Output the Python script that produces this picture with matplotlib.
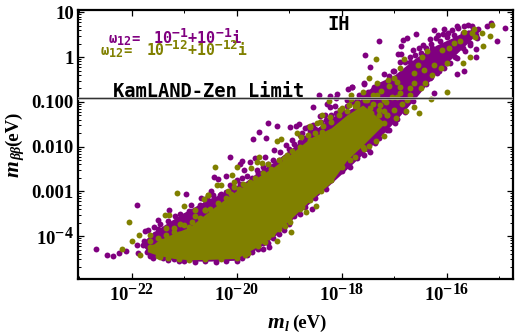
import matplotlib
matplotlib.use("Agg")
import matplotlib.pyplot as plt
import matplotlib._mathtext as mt
import numpy as np
from matplotlib.ticker import FixedLocator, NullFormatter

# everything below is log10 of the value
purple_band_x = [-21.8, -21.6, -21.3, -21, -20.5, -20, -19.6, -19.3, -19, -18.6, -18.2, -17.8, -17.4, -17, -16.6, -16.2, -15.9, -15.6, -15.4]
purple_band_lo = [-4.2, -4.48, -4.52, -4.56, -4.56, -4.54, -4.28, -4.03, -3.69, -3.25, -2.82, -2.39, -1.94, -1.45, -0.92, -0.35, -0.02, 0.32, 0.55]
purple_band_hi = [-4.15, -3.92, -3.69, -3.47, -3.15, -2.93, -2.57, -2.35, -2.08, -1.70, -1.34, -1.14, -0.62, -0.40, -0.02, 0.27, 0.43, 0.61, 0.6]

olive_band_x = [-21.7, -21.5, -21.2, -20.9, -20.5, -20, -19.6, -19.3, -19, -18.6, -18.2, -17.9, -17.6, -17.2]
olive_band_lo = [-4.35, -4.43, -4.50, -4.53, -4.52, -4.50, -4.23, -3.98, -3.65, -3.20, -2.80, -2.30, -1.97, -1.5]
olive_band_hi = [-4.3, -4.10, -3.94, -3.80, -3.42, -2.98, -2.68, -2.46, -2.19, -1.81, -1.58, -1.29, -1.07, -1.45]

purple_x = [-22.68, -22.47, -22.35, -22.24, -22.10, -21.89, -20.96, -21.29, -21.49, -21.46, -21.57, -21.68, -21.74, -21.76, -21.89, -21.78, -21.87, -21.65, -21.55, -21.46, -21.30, -21.17, -21.08, -20.87, -20.68, -20.69,
            -19.40, -19.23, -19.58, -19.69, -19.44, -18.99, -18.87, -18.81, -20.13, -19.90, -19.94, -20.36, -20.43, -20.20, -19.86, -20.49, -19.75, -19.65, -19.29, -19.18, -19.06, -18.95, -18.80, -18.64, -19.46, -20.0, -19.94, -19.62, -20.13, -20.32, -20.57,
            -18.57, -19.10, -19.23, -19.39, -19.40, -19.50, -18.80,
            -18.54, -18.43, -18.22, -18.09, -18.10, -18.28, -18.22, -18.12, -17.89, -17.80, -17.57, -17.46, -17.57, -18.41, -18.31, -17.86, -17.68, -17.90, -18.03, -16.98, -17.13, -17.36, -18.69, -18.76, -18.54, -17.46, -17.27, -17.39,
            -14.89, -15.04, -15.16, -15.24, -15.44, -15.44, -15.67, -15.81, -16.24, -16.06, -16.08, -16.17, -16.32, -16.58, -16.75, -16.84, -16.87, -16.93, -16.87, -16.64, -16.53, -16.46, -17.03, -16.89, -16.70, -16.60, -16.29, -16.13, -15.97, -15.87, -15.78, -15.68, -15.52, -15.43, -15.56, -15.65, -15.81, -15.94, -16.06, -16.19, -16.32, -16.25, -16.45, -16.0, -15.75, -15.62, -16.70,
            -17.30, -17.55, -17.46, -17.58, -17.81]
purple_y = [-4.30, -4.43, -4.45, -4.37, -4.34, -3.31, -3.06, -3.42, -3.63, -3.74, -3.80, -3.86, -3.89, -4.12, -4.21, -4.21, -4.38, -4.45, -3.95, -3.98, -3.67, -3.56, -3.50, -3.31, -3.15, -3.35,
            -1.47, -1.53, -1.67, -1.83, -1.81, -1.56, -1.53, -1.50, -2.24, -2.33, -2.39, -2.73, -2.68, -2.66, -2.53, -3.0, -2.34, -2.25, -2.08, -2.12, -1.97, -1.85, -1.74, -1.56, -2.23, -2.75, -2.83, -2.53, -2.86, -3.09, -3.16,
            -3.40, -3.87, -3.92, -4.24, -4.16, -4.28, -3.50,
            -1.11, -0.85, -0.87, -0.82, -0.91, -1.05, -1.11, -1.09, -0.71, -0.67, -0.60, -2.12, -2.19, -1.32, -1.29, -2.34, -0.85, -0.96, -1.18, -1.48, -1.63, -1.93, -1.59, -1.70, -1.52, -0.77, -0.62, -0.66,
            0.66, 0.37, 0.77, 0.69, 0.18, 0.01, -0.30, -0.37, 0.60, 0.62, 0.51, 0.50, 0.40, 0.51, 0.42, 0.39, 0.26, 0.06, 0.06, 0.16, 0.20, 0.28, -0.31, -0.10, -0.10, 0.05, 0.20, 0.35, 0.54, 0.50, 0.65, 0.69, 0.69, 0.43, 0.28, 0.13, -0.02, -0.14, -0.25, -0.36, -0.47, -0.81, -0.02, 0.28, 0.43, 0.50, -0.29,
            0.37, 0.05, -0.21, -0.58, -0.66]

# the crowded edges of the purple cloud
purple_edge_x = [-21.7, -21.6, -21.5, -21.4, -21.3, -21.2, -21.1, -21.0, -20.8, -20.6, -20.4, -20.2, -20.0, -19.9, -19.8, -19.7,
                 -21.6, -21.5, -21.4, -21.3, -21.2, -21.1, -21.0, -20.9, -20.8, -20.7, -20.6, -20.5, -20.45, -20.3, -20.2, -20.1, -20.0, -19.9, -19.8, -19.7, -19.6, -19.5, -19.4, -19.3, -19.2, -19.1, -19.0, -18.9, -18.8, -18.7, -18.6, -18.5, -18.4, -18.3, -18.2, -18.1, -18.0, -17.9, -17.8, -17.7, -17.6, -17.5,
                 -19.6, -19.5, -19.3, -19.2, -19.0, -18.9, -18.7, -18.5, -18.3, -18.2, -18.0, -17.85, -17.7, -17.5, -17.3, -17.1, -16.95, -16.8, -16.65, -16.4, -16.3, -16.15, -16.0, -15.85, -15.7, -15.55,
                 -17.2, -17.1, -17.0, -16.8, -16.7, -16.5, -16.4, -16.3, -16.2, -16.0, -15.9, -15.8, -15.6, -15.5, -15.45, -15.4, -15.7]
purple_edge_y = [-4.35, -4.48, -4.25, -4.5, -4.53, -4.52, -4.55, -4.56, -4.57, -4.56, -4.57, -4.55, -4.55, -4.5, -4.42, -4.36,
                 -4.0, -3.85, -3.9, -3.8, -3.75, -3.7, -3.55, -3.45, -3.5, -3.3, -3.2, -3.3, -3.08, -3.05, -3.02, -2.98, -2.92, -2.7, -2.65, -2.7, -2.6, -2.45, -2.4, -2.3, -2.3, -2.25, -2.05, -1.95, -1.9, -1.8, -1.65, -1.6, -1.45, -1.4, -1.3, -1.25, -1.2, -1.1, -1.0, -0.95, -0.85, -0.78,
                 -4.3, -4.15, -4.05, -3.95, -3.72, -3.55, -3.35, -3.15, -2.95, -2.75, -2.55, -2.45, -2.25, -2.05, -1.8, -1.62, -1.38, -1.22, -0.98, -0.6, -0.45, -0.3, -0.12, 0.0, 0.2, 0.32,
                 -0.38, -0.42, -0.3, -0.1, 0.0, 0.1, 0.2, 0.3, 0.42, 0.45, 0.6, 0.7, 0.72, 0.6, 0.5, 0.62, 0.55]

olive_x = [-15.14, -15.17, -15.31, -15.48, -15.55, -15.69, -16.0, -16.31, -16.52, -17.34, -17.48, -17.82, -17.82, -18.24, -15.68, -15.52, -15.33, -15.46, -15.74, -15.87, -15.96, -16.09, -16.0, -16.12, -16.25, -16.38, -16.47, -16.54, -16.44, -16.63, -16.82, -16.89, -17.01, -17.11, -17.33, -17.60, -16.89, -16.7, -16.50, -16.41, -16.28, -16.63, -16.95, -16.76, -16.63, -17.2, -17.33, -17.52, -17.71, -17.87, -18.03, -17.52, -17.30, -17.01, -17.14, -18.38, -18.22, -18.41, -18.60,
           -21.14, -22.05, -21.86, -21.99, -22.18, -21.84, -21.36, -21.28, -21.01, -20.63, -20.54, -21.65, -21.65, -21.65, -21.44, -21.34, -21.08, -21.2, -20.85, -20.79, -20.60, -21.46,
           -20.41, -20.0, -20.09, -19.16, -19.23, -19.58, -19.61, -19.52, -19.73, -20.37, -20.30, -20.06, -20.06, -20.16, -20.55, -19.87, -19.75, -19.40, -19.04, -18.86, -18.78, -18.60, -18.48, -18.38, -18.60, -18.51,
           -19.23, -18.97, -18.68, -18.49, -19.08, -18.98, -19.32, -18.76, -19.46, -19.78,
           -16.77, -16.96, -17.20, -17.34, -17.48, -17.58, -17.74, -18.0, -17.87, -17.71, -17.68, -17.46, -17.27, -17.14, -17.20, -17.36, -17.52, -17.84]
olive_y = [0.71, 0.48, 0.25, 0.63, 0.01, -0.12, -0.79, -0.93, -1.24, -0.04, -0.46, -0.84, -0.93, -0.99, 0.56, 0.55, 0.54, 0.44, 0.37, 0.31, 0.20, 0.17, -0.12, -0.25, -0.17, 0.13, 0.01, -0.17, -0.28, -0.36, -0.04, -0.25, -0.47, -0.51, -0.57, -0.78, -0.66, -0.70, -0.70, -0.58, -0.40, -0.58, -0.88, -0.96, -1.11, -0.96, -0.85, -0.96, -1.07, -1.07, -1.18, -1.26, -1.18, -1.18, -1.29, -1.29, -1.33, -1.44, -1.55,
           -3.03, -3.69, -3.98, -4.12, -4.28, -4.43, -3.53, -3.53, -3.33, -3.18, -3.09, -3.98, -4.10, -4.25, -4.12, -3.83, -3.72, -3.83, -3.69, -3.42, -3.42, -4.47,
           -2.46, -2.46, -2.64, -1.83, -1.88, -2.24, -2.35, -2.37, -2.48, -2.86, -2.86, -2.79, -2.90, -3.0, -3.09, -2.83, -2.79, -2.38, -2.19, -1.70, -1.78, -1.56, -1.48, -1.67, -1.85, -1.82,
           -4.10, -3.92, -3.47, -3.33, -3.78, -3.69, -3.96, -3.35, -4.13, -4.37,
           -1.20, -1.37, -1.76, -1.88, -1.98, -2.06, -2.23, -1.14, -1.07, -1.03, -1.18, -1.14, -1.07, -1.29, -1.48, -1.52, -1.37, -1.37]

# the crowded edges of the olive cloud
olive_edge_x = [-21.5, -21.3, -21.1, -20.9, -20.6, -20.3, -20.0, -19.85, -19.6, -19.4, -19.2, -19.0, -18.8, -18.6, -18.4, -18.2, -18.0, -17.85, -17.6,
                -21.6, -21.5, -21.35, -21.2, -21.1, -21.0, -20.9, -20.8, -20.7, -20.6, -20.5, -20.35, -20.2, -20.1, -19.95, -19.8, -19.65, -19.5, -19.35, -19.2, -19.1, -18.95, -18.8, -18.65, -18.5, -18.35, -18.2, -18.05, -17.9, -17.75, -17.55, -17.4, -17.25, -17.1, -16.95,
                -17.5, -17.4, -17.3, -17.45, -17.55, -17.2, -17.05, -17.15, -17.4, -16.9, -16.85, -16.7]
olive_edge_y = [-4.45, -4.5, -4.52, -4.53, -4.52, -4.52, -4.5, -4.42, -4.22, -4.03, -3.85, -3.62, -3.4, -3.2, -3.0, -2.75, -2.45, -2.3, -2.0,
                -4.25, -4.05, -3.98, -3.9, -3.95, -3.75, -3.8, -3.55, -3.6, -3.42, -3.4, -3.25, -3.15, -3.05, -2.95, -2.85, -2.7, -2.6, -2.5, -2.3, -2.25, -2.1, -2.0, -1.75, -1.7, -1.55, -1.45, -1.3, -1.2, -1.1, -0.95, -0.85, -0.75, -0.65, -0.55,
                -1.7, -1.5, -1.3, -1.25, -1.5, -1.2, -0.9, -1.0, -1.05, -0.8, -1.05, -0.85]

limit = 0.12
x_major = [-22, -20, -18, -16]
x_minor = [-23, -21, -19, -17, -15]
y_major = [1, 0, -1, -2, -3, -4]
y_labels = ["10", "1", "0.100", "0.010", "0.001", r"$\mathrm{10^{-4}}$"]

plt.rcParams["font.family"] = "Liberation Serif"
plt.rcParams["font.weight"] = "bold"
plt.rcParams["mathtext.fontset"] = "custom"
plt.rcParams["mathtext.rm"] = "Liberation Serif:bold"
plt.rcParams["mathtext.it"] = "Liberation Serif:italic:bold"
plt.rcParams["mathtext.bf"] = "Liberation Serif:bold"
plt.rcParams["mathtext.tt"] = "DejaVu Sans Mono:bold"
mt.SHRINK_FACTOR = 0.85  # the exponents are nearly full size in the original

purple = "#800080"
olive = "#808000"

fig = plt.figure(figsize=(5.18, 3.34), dpi=100)
ax = fig.add_axes([78 / 518, 1 - 279 / 334, 435 / 518, 269 / 334])
ax.set_xscale("log")
ax.set_yscale("log")


def band(xs, lo, hi, color, z):
    ax.fill_between(10.0 ** np.array(xs), 10.0 ** np.array(lo), 10.0 ** np.array(hi), color=color, lw=0, zorder=z)


def dots(xs, ys, color, z):
    ax.scatter(10.0 ** np.array(xs), 10.0 ** np.array(ys), s=18, color=color, lw=0, zorder=z)


def px_text(x, y, s, **kw):
    return fig.text(x / 518, 1 - y / 334, s, **kw)


band(purple_band_x, purple_band_lo, purple_band_hi, purple, 1)
dots(purple_x, purple_y, purple, 2)
dots(purple_edge_x, purple_edge_y, purple, 2)
band(olive_band_x, olive_band_lo, olive_band_hi, olive, 3)
dots(olive_x, olive_y, olive, 4)
dots(olive_edge_x, olive_edge_y, olive, 4)
ax.axhline(limit, color="#c8c8c8", lw=1.8, zorder=5)
ax.axhline(limit, color="#333333", lw=0.9, zorder=6)

ax.set_xlim(10.0 ** -23.02, 10.0 ** -14.74)
ax.set_ylim(10.0 ** -4.96, 10.0 ** 1.054)

ax.xaxis.set_major_locator(FixedLocator([10.0 ** v for v in x_major]))
ax.xaxis.set_minor_locator(FixedLocator([10.0 ** v for v in x_minor]))
ax.xaxis.set_minor_formatter(NullFormatter())
ax.set_xticklabels([rf"$\mathrm{{10^{{{v}}}}}$" for v in x_major])
y_minor = [m * 10.0 ** e for e in range(-5, 2) for m in range(2, 10)]
ax.yaxis.set_major_locator(FixedLocator([10.0 ** v for v in y_major]))
ax.yaxis.set_minor_locator(FixedLocator([v for v in y_minor if v < 10.0 ** 1.054]))
ax.yaxis.set_minor_formatter(NullFormatter())
ax.set_yticklabels(y_labels)
ax.tick_params(which="major", direction="in", top=True, right=True, length=4.5, width=0.9, labelsize=13.5, pad=3)
ax.tick_params(which="minor", direction="in", top=True, right=True, length=2.5, width=0.7)
for s in ax.spines.values():
    s.set_linewidth(1.6)
ax.set_axisbelow(False)

# axis labels are put together by hand so the subscripts stay small
px_text(268, 328, "m", style="italic", fontsize=15.5, va="baseline")
px_text(285, 331, "l", style="italic", fontsize=10, va="baseline")
px_text(292, 328, "(eV)", fontsize=13.5, va="baseline")
vert = dict(rotation=90, rotation_mode="anchor", ha="left", va="baseline")
px_text(18.5, 177, "m", style="italic", fontsize=15.5, **vert)
px_text(21.5, 160, "ββ", style="italic", fontsize=10, **vert)
px_text(18.5, 146, "(eV)", fontsize=13.5, **vert)

mono = "DejaVu Sans Mono"
px_text(339, 24, "IH", family=mono, weight="bold", fontsize=13.5, ha="center", va="center")
px_text(209, 92, "KamLAND-Zen Limit", family=mono, weight="bold", fontsize=13.5, ha="center", va="center")
px_text(108, 44, r"$\mathtt{\omega_{12}}$=", color=purple, family=mono, weight="bold", fontsize=10, va="baseline")
px_text(153, 44, r"$\mathtt{10^{-1}}$+$\mathtt{10^{-1}}$i", color=purple, family=mono, weight="bold", fontsize=11, va="baseline")
px_text(100, 56, r"$\mathtt{\omega_{12}}$=", color=olive, family=mono, weight="bold", fontsize=10, va="baseline")
px_text(146, 56, r"$\mathtt{10^{-12}}$+$\mathtt{10^{-12}}$i", color=olive, family=mono, weight="bold", fontsize=10.7, va="baseline")

fig.savefig("out.png", dpi=100)
